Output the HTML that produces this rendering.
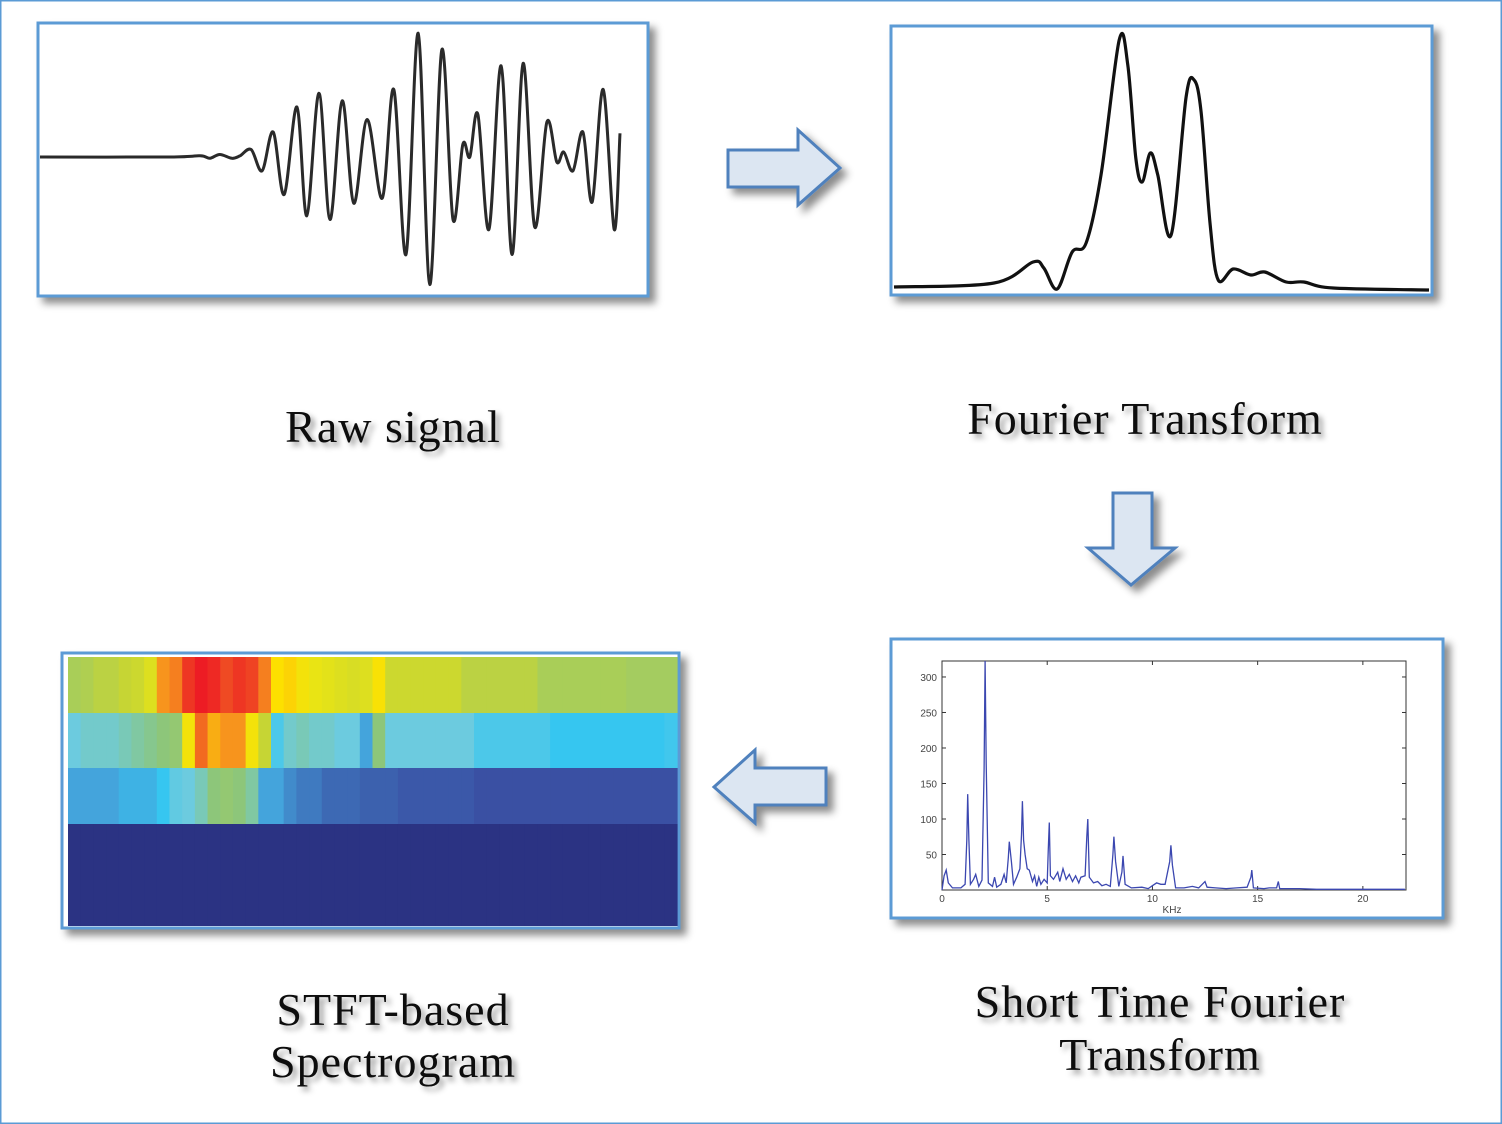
<!DOCTYPE html>
<html><head><meta charset="utf-8"><style>
html,body{margin:0;padding:0;background:#fff;}
svg{display:block;}
text{font-family:"Liberation Serif",serif;}
text.sans{font-family:"Liberation Sans",sans-serif;}
</style></head><body>
<svg id="root" width="1502" height="1124" viewBox="0 0 1502 1124">
<defs>
<filter id="sh" x="-10%" y="-10%" width="130%" height="130%"><feDropShadow dx="6" dy="6" stdDeviation="4" flood-color="#000" flood-opacity="0.45"/></filter>
<filter id="tsh" x="-10%" y="-30%" width="130%" height="170%"><feDropShadow dx="4" dy="4" stdDeviation="3" flood-color="#000" flood-opacity="0.4"/></filter>
</defs>
<rect x="0.5" y="0.5" width="1501" height="1123" fill="#fff" stroke="#5b9bd5" stroke-width="2"/>

<rect x="38" y="23" width="610" height="273" fill="#fff" stroke="#5b9bd5" stroke-width="3" filter="url(#sh)"/>
<rect x="891" y="26" width="541" height="269" fill="#fff" stroke="#5b9bd5" stroke-width="3" filter="url(#sh)"/>
<rect x="891" y="639" width="552" height="279" fill="#fff" stroke="#5b9bd5" stroke-width="3" filter="url(#sh)"/>
<rect x="62" y="653" width="617" height="275" fill="#fff" stroke="#5b9bd5" stroke-width="3" filter="url(#sh)"/>

<g id="raw"></g>
<g id="fourier"></g>
<g id="stft"></g>
<g id="spec"></g>

<path d="M728 150 H798 V130 L840 168 L798 205 V187 H728 Z" fill="#dce6f2" stroke="#4f81bd" stroke-width="3" filter="url(#sh)"/>
<path d="M1113 493 H1152 V548 H1175 L1131 585 L1088 548 H1113 Z" fill="#dce6f2" stroke="#4f81bd" stroke-width="3" filter="url(#sh)"/>
<path d="M826 768 H755 V750 L714 787 L755 823 V805 H826 Z" fill="#dce6f2" stroke="#4f81bd" stroke-width="3" filter="url(#sh)"/>

<g filter="url(#tsh)" font-size="46" fill="#111" text-anchor="middle">
<text x="393" y="442" letter-spacing="1">Raw signal</text>
<text x="1145" y="434" letter-spacing="1">Fourier Transform</text>
<text x="393" y="1025" letter-spacing="1">STFT-based</text>
<text x="393" y="1077" letter-spacing="1">Spectrogram</text>
<text x="1160" y="1017" letter-spacing="1">Short Time Fourier</text>
<text x="1160" y="1070" letter-spacing="1">Transform</text>
</g>
</svg>
<script>
const NS="http://www.w3.org/2000/svg";
const rawTime=[0,22.4,27.6,29.3,31,33.1,34.5,36.4,38.3,40.2,42.1,44.3,46,48.1,50,52.1,54.1,56.4,59,61,63.1,65.2,67.2,69.3,71.2,72.9,74.1,75.5,77.4,79.5,81.4,83.3,85.3,87.4,89.1,90.3,91.9,93.6,95.2,97.1,99,100];
const rawAmp=[0,0,1,-1,2,-1,1,6,-11,20,-30,40,-47,51,-50,45,-37,30,-33,54,-78,99,-102,86,-50,10,0,34,-58,73,-78,75,-56,28,-4,4,-11,20,-36,54,-58,19];
const ftFreq=[0,18.7,26,28,30.5,33.3,35.9,38.7,42.1,43.7,45.2,46.4,47.9,49.3,51.8,54.6,56.1,57.4,59.1,60.6,63.4,66.7,69.3,73.3,76.6,82.1,100];
const ftMag=[1.2,2.8,11.2,8.8,0.4,15.2,18.8,46,100,90,52.8,43.2,54.8,46,22,77.2,84,71.2,26,4,8.4,6,7.2,3.2,3.2,0.8,0];
const stftKHz=[0,0.1,0.2,0.3,0.5,0.9,1.1,1.18,1.22,1.28,1.35,1.5,1.6,1.75,1.9,2.0,2.05,2.1,2.2,2.4,2.5,2.6,2.8,2.95,3.05,3.15,3.2,3.3,3.4,3.55,3.7,3.78,3.82,3.88,3.95,4.05,4.15,4.3,4.4,4.5,4.6,4.7,4.85,5.0,5.05,5.1,5.15,5.3,5.5,5.6,5.75,5.9,6.05,6.2,6.35,6.5,6.6,6.8,6.88,6.93,7.0,7.2,7.4,7.6,7.8,8.0,8.12,8.17,8.25,8.4,8.55,8.6,8.7,9.0,9.5,9.8,10.0,10.2,10.4,10.6,10.82,10.88,10.95,11.1,11.5,11.9,12.2,12.5,12.6,13.0,13.5,14.0,14.5,14.68,14.72,14.8,15.3,15.55,15.9,15.98,16.05,17.0,17.8,22];
const stftAmp=[0,20,28,10,3,3,8,70,135,70,8,15,22,5,14,170,325,178,10,5,18,4,8,22,10,45,68,40,8,18,30,78,125,70,50,30,28,12,20,5,18,8,15,10,58,95,20,15,25,12,30,15,22,12,20,10,18,20,75,100,18,10,12,6,8,5,50,75,40,5,25,48,8,3,4,2,6,10,8,8,40,63,35,3,3,5,3,12,4,3,2,3,4,18,28,3,2,3,3,12,2,2,1,1];
const stftXTicks=[0,5,10,15,20];
const stftYTicks=[50,100,150,200,250,300];
const specBand1=[0.57,0.58,0.6,0.6,0.62,0.63,0.66,0.78,0.8,0.88,0.92,0.9,0.85,0.88,0.86,0.8,0.72,0.73,0.7,0.68,0.67,0.66,0.65,0.66,0.71,0.63,0.63,0.63,0.63,0.63,0.63,0.6,0.6,0.6,0.6,0.6,0.6,0.57,0.57,0.57,0.57,0.57,0.57,0.57,0.56,0.56,0.56,0.56];
const specBand2=[0.45,0.46,0.46,0.46,0.47,0.48,0.49,0.5,0.52,0.7,0.82,0.76,0.78,0.78,0.7,0.62,0.42,0.46,0.47,0.46,0.46,0.45,0.45,0.3,0.5,0.45,0.45,0.45,0.45,0.45,0.45,0.45,0.42,0.42,0.42,0.42,0.42,0.42,0.4,0.4,0.4,0.4,0.4,0.4,0.4,0.4,0.4,0.41];
const specBand3=[0.3,0.3,0.3,0.3,0.34,0.34,0.34,0.4,0.44,0.45,0.47,0.5,0.52,0.5,0.48,0.3,0.3,0.27,0.25,0.25,0.23,0.23,0.23,0.22,0.22,0.22,0.21,0.21,0.21,0.21,0.21,0.21,0.2,0.2,0.2,0.2,0.2,0.2,0.2,0.2,0.2,0.2,0.2,0.2,0.2,0.2,0.2,0.2];
const specBand4=[0.02,0.02,0.02,0.02,0.02,0.02,0.02,0.02,0.02,0.02,0.02,0.02,0.02,0.02,0.02,0.02,0.02,0.02,0.02,0.02,0.02,0.02,0.02,0.02,0.02,0.02,0.02,0.02,0.02,0.02,0.02,0.02,0.02,0.02,0.02,0.02,0.02,0.02,0.02,0.02,0.02,0.02,0.02,0.02,0.02,0.02,0.02,0.02];

function el(tag,attrs,parent){const e=document.createElementNS(NS,tag);for(const k in attrs)e.setAttribute(k,attrs[k]);parent.appendChild(e);return e;}
function smooth(pts){let d="M"+pts[0][0]+" "+pts[0][1];for(let i=0;i<pts.length-1;i++){const p0=pts[i-1]||pts[i],p1=pts[i],p2=pts[i+1],p3=pts[i+2]||p2;const c1=[p1[0]+(p2[0]-p0[0])/6,p1[1]+(p2[1]-p0[1])/6],c2=[p2[0]-(p3[0]-p1[0])/6,p2[1]-(p3[1]-p1[1])/6];d+=" C"+c1[0].toFixed(1)+" "+c1[1].toFixed(1)+" "+c2[0].toFixed(1)+" "+c2[1].toFixed(1)+" "+p2[0].toFixed(1)+" "+p2[1].toFixed(1);}return d;}

const rx=t=>40+t*5.8, ry=a=>157-a*1.25;
const rawG=document.getElementById('raw');
const rp=el('path',{d:smooth(rawTime.map((t,i)=>[rx(t),ry(rawAmp[i])])),fill:'none',stroke:'#2a2a2a','stroke-width':3},rawG);



const fx=f=>894+f*5.35, fy=m=>290-m*2.5;
const ftG=document.getElementById('fourier');
const fp=el('path',{d:smooth(ftFreq.map((f,i)=>[fx(f),fy(ftMag[i])])),fill:'none',stroke:'#111','stroke-width':3.2},ftG);



const sL=942,sR=1406,sT=661,sB=890,kMax=22.05,aMax=322.5;
const sx=k=>sL+k/kMax*(sR-sL), sy=a=>sB-a/aMax*(sB-sT);
const sG=document.getElementById('stft');
const frame=el('rect',{x:sL,y:sT,width:sR-sL,height:sB-sT,fill:'none',stroke:'#333','stroke-width':1},sG);


stftXTicks.forEach(v=>{
  el('line',{x1:sx(v),x2:sx(v),y1:sB,y2:sB-4,stroke:'#333'},sG);
  el('line',{x1:sx(v),x2:sx(v),y1:sT,y2:sT+4,stroke:'#333'},sG);
  const t=el('text',{class:'sans',x:sx(v),y:sB+12,'font-size':10,'text-anchor':'middle',fill:'#444'},sG);
  t.textContent=v;
  
  
});
stftYTicks.forEach(v=>{
  el('line',{x1:sL,x2:sL+4,y1:sy(v),y2:sy(v),stroke:'#333'},sG);
  el('line',{x1:sR,x2:sR-4,y1:sy(v),y2:sy(v),stroke:'#333'},sG);
  const t=el('text',{class:'sans',x:sL-5,y:sy(v)+4,'font-size':10,'text-anchor':'end',fill:'#444'},sG);
  t.textContent=v;
  
  
});
const xl=el('text',{class:'sans',x:1172,y:913,'font-size':10,'text-anchor':'middle',fill:'#444'},sG);
xl.textContent='KHz';


const sp=el('polyline',{points:stftKHz.map((k,i)=>sx(k).toFixed(1)+","+Math.max(sT,sy(stftAmp[i])).toFixed(1)).join(" "),fill:'none',stroke:'#3b47b0','stroke-width':1.3},sG);



const cmapStops=[[0,'#29307f'],[0.2,'#3a50a3'],[0.3,'#44a4dc'],[0.4,'#36c6f0'],[0.45,'#6ccbdf'],[0.5,'#8dc67a'],[0.55,'#9ecb67'],[0.62,'#c6d534'],[0.68,'#e9e414'],[0.72,'#fde000'],[0.78,'#f7941d'],[0.85,'#ef4a23'],[0.92,'#ed1c24'],[1,'#c4161c']];
function hex(h){return [1,3,5].map(i=>parseInt(h.substr(i,2),16));}
function cmap(v){for(let i=0;i<cmapStops.length-1;i++){const a=cmapStops[i],b=cmapStops[i+1];if(v<=b[0]){const t=(v-a[0])/(b[0]-a[0]);const ca=hex(a[1]),cb=hex(b[1]);return 'rgb('+ca.map((c,j)=>Math.round(c+(cb[j]-c)*Math.max(0,t))).join(',')+')';}}return cmapStops[cmapStops.length-1][1];}
const pL=68,pR=677,bandEdges=[657,713,768,824,926];
const bands=[specBand1,specBand2,specBand3,specBand4];
const spG=document.getElementById('spec');
bands.forEach((b,bi)=>{
  const w=(pR-pL)/b.length;
  b.forEach((v,ci)=>{
    const r=el('rect',{x:(pL+ci*w).toFixed(2),y:bandEdges[bi],width:(w+0.6).toFixed(2),height:bandEdges[bi+1]-bandEdges[bi],fill:cmap(v)},spG);
    
    
  });
});
</script>
</body></html>
